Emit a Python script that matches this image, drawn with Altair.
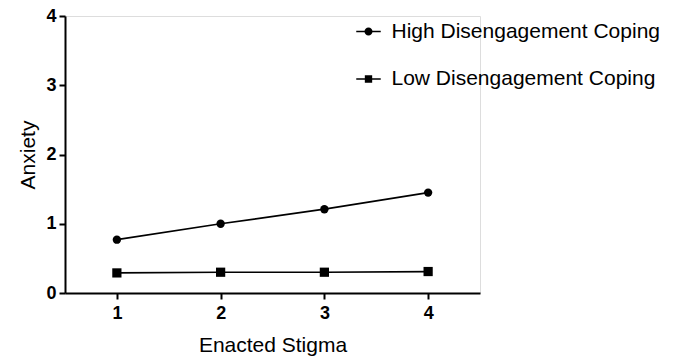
import altair as alt
import pandas as pd

stigma = [1, 2, 3, 4]
high = [0.77, 1.00, 1.21, 1.45]
low = [0.29, 0.30, 0.30, 0.31]
series = ["High Disengagement Coping", "Low Disengagement Coping"]
y_ticks = [0, 1, 2, 3, 4]
x_ticks = [1, 2, 3, 4]

rows = []
for s, vals in zip(series, [high, low]):
    for x, v in zip(stigma, vals):
        rows.append({"stigma": x, "anxiety": v, "series": s})
df = pd.DataFrame(rows)

FONT = "Liberation Sans"

x_enc = alt.X(
    "stigma:Q",
    scale=alt.Scale(domain=[0.5, 4.5], nice=False, zero=False),
    axis=alt.Axis(
        values=x_ticks, title="Enacted Stigma", grid=False,
        domainColor="black", domainWidth=2, tickColor="black", tickWidth=2, tickSize=6,
        labelFont=FONT, labelFontSize=18, labelFontWeight="bold", labelColor="black",
        labelPadding=5, format="d",
        titleFont=FONT, titleFontSize=21, titleFontWeight="normal", titleColor="black",
        titleBaseline="alphabetic", titleY=58.5,
    ),
)
y_enc = alt.Y(
    "anxiety:Q",
    scale=alt.Scale(domain=[0, 4], nice=False),
    axis=alt.Axis(
        values=y_ticks, title="Anxiety", grid=False,
        domainColor="black", domainWidth=2, tickColor="black", tickWidth=2, tickSize=6,
        labelFont=FONT, labelFontSize=18, labelFontWeight="bold", labelColor="black",
        labelPadding=3, format="d",
        titleFont=FONT, titleFontSize=21, titleFontWeight="normal", titleColor="black",
        titleBaseline="alphabetic", titleX=-31, titleAngle=270,
    ),
)

lines = alt.Chart(df).mark_line(color="black", strokeWidth=1.7).encode(
    x=x_enc, y=y_enc, detail="series:N"
)

points = alt.Chart(df).mark_point(filled=True, color="black", opacity=1).encode(
    x=alt.X("stigma:Q"),
    y=alt.Y("anxiety:Q"),
    shape=alt.Shape(
        "series:N",
        scale=alt.Scale(domain=series, range=["circle", "square"]),
        legend=None,
    ),
    size=alt.Size(
        "series:N",
        scale=alt.Scale(domain=series, range=[70, 85]),
        legend=None,
    ),
)

# legend glyphs: a short line (drawn as thin filled bars) with the marker in the middle
legend_paths = [
    "M-1,-0.065H-0.3V0.065H-1Z M0.3,-0.065H1V0.065H0.3Z "
    "M-0.33,0A0.33,0.33 0 1,1 0.33,0A0.33,0.33 0 1,1 -0.33,0Z",
    "M-1,-0.065H-0.3V0.065H-1Z M0.3,-0.065H1V0.065H0.3Z "
    "M-0.3,-0.3H0.3V0.3H-0.3Z",
]

legend_layer = alt.Chart(df).transform_filter("false").mark_point(
    filled=True, fill="black", opacity=1
).encode(
    x=alt.X("stigma:Q"),
    y=alt.Y("anxiety:Q"),
    shape=alt.Shape(
        "series:N",
        scale=alt.Scale(domain=series, range=legend_paths),
        legend=alt.Legend(
            title=None, orient="none", legendX=291, legendY=3,
            symbolSize=600, symbolStrokeWidth=0, symbolFillColor="black",
            symbolOpacity=1,
            labelFont=FONT, labelFontSize=21, labelColor="black", labelLimit=400,
            labelOffset=10.5, rowPadding=24.5, padding=0,
        ),
    ),
)

chart = (
    alt.layer(lines, points, legend_layer)
    .resolve_scale(shape="independent", size="independent")
    .properties(
        width=415, height=277,
        autosize=alt.AutoSizeParams(type="none"),
        padding={"left": 57, "top": 8, "right": 196, "bottom": 64},
    )
    .configure_view(stroke=None)
    .configure(background="white")
)

chart.save("out.html", embed_options={"renderer": "svg", "actions": False})
